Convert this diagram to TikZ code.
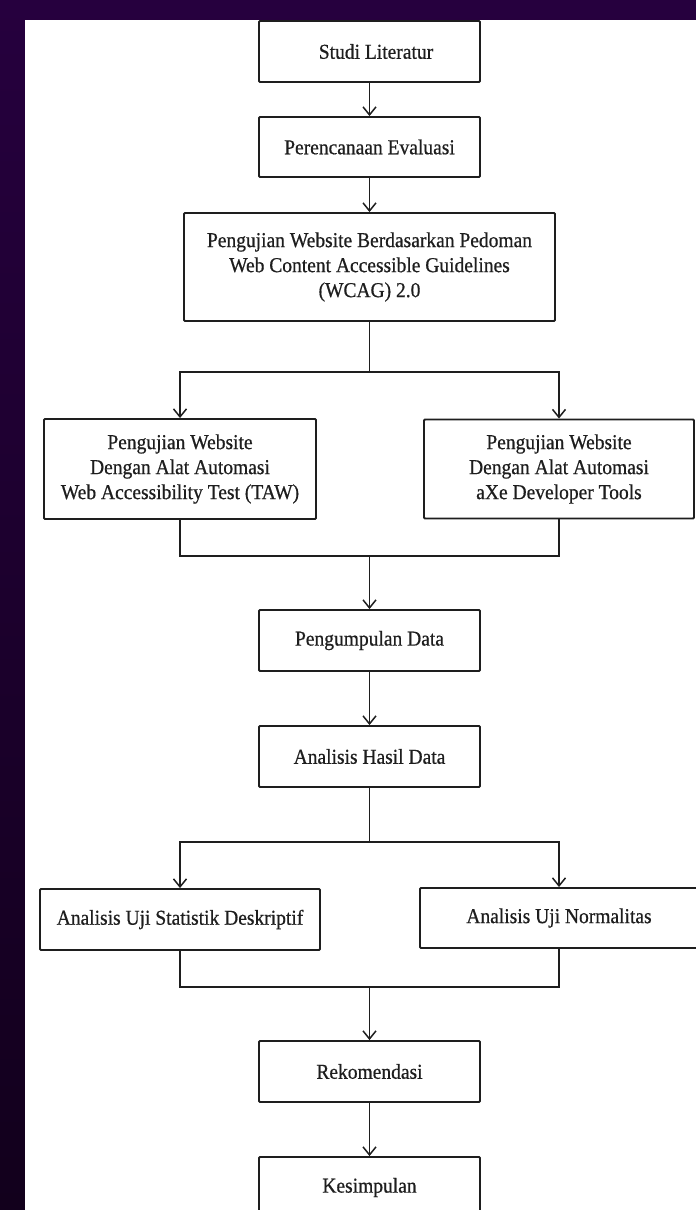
\documentclass[tikz,border=0pt]{standalone}
\usepackage{fontspec}
\setmainfont{Liberation Serif}[FakeStretch=0.92,FakeBold=0.6]
\usetikzlibrary{arrows.meta}
\definecolor{bgpurple}{RGB}{38,0,62}
\definecolor{bgdark}{RGB}{18,0,28}
\definecolor{inkgray}{RGB}{30,30,30}

\begin{document}
\begin{tikzpicture}[x=1pt,y=-1pt,
    box/.style={draw=inkgray,line width=1.9pt,rounded corners=1pt,fill=white,align=center,inner sep=0pt,
        text=inkgray,font=\fontsize{21.2}{25}\selectfont,minimum width=221pt,minimum height=61pt},
    line/.style={draw=inkgray,line width=1.5pt},
    arrow/.style={line,-{Straight Barb[length=8pt,width=13pt]}}]
    \useasboundingbox (0,0) rectangle (696,1210);
    \shade[top color=bgpurple,bottom color=bgdark] (0,0) rectangle (696,1210);
    \fill[white] (25,20) rectangle (696,1210);

    \node[box] (studi) at (369.5,51.5) {\hspace*{13pt}Studi Literatur};
    \node[box,minimum height=60pt] (rencana) at (369.5,147) {Perencanaan Evaluasi};
    \node[box,minimum width=371pt,minimum height=108pt] (uji) at (369.5,267) {
        Pengujian Website Berdasarkan Pedoman\\
        Web Content Accessible Guidelines\\
        (WCAG) 2.0};

    \node[box,minimum width=272pt,minimum height=100pt] (taw) at (180,469) {
        Pengujian Website\\
        Dengan Alat Automasi\\
        Web Accessibility Test (TAW)};
    \node[box,minimum width=270pt,minimum height=99pt] (axe) at (559,469) {
        Pengujian Website\\
        Dengan Alat Automasi\\
        aXe Developer Tools};

    \node[box] (kumpul) at (369.5,640.5) {Pengumpulan Data};
    \node[box] (hasil) at (369.5,756.5) {Analisis Hasil Data};

    \node[box,minimum width=280pt] (deskriptif) at (180,919.5) {Analisis Uji Statistik Deskriptif};
    \node[box,minimum width=278pt,minimum height=60pt] (normal) at (559,918) {Analisis Uji Normalitas};

    \node[box] (rekom) at (369.5,1071.5) {Rekomendasi};
    \node[box] (simpul) at (369.5,1187.5) {Kesimpulan};

    \coordinate (split1) at (369.5,372);
    \coordinate (merge1) at (369.5,556);
    \coordinate (split2) at (369.5,842);
    \coordinate (merge2) at (369.5,987);

\draw [arrow] (studi.south) to (rencana.north);
\draw [arrow] (rencana.south) to (uji.north);
\draw [line] (uji.south) to (split1);
\draw [arrow] (split1) -| (taw.north);
\draw [arrow] (split1) -| (axe.north);
\draw [line] (taw.south) |- (merge1) -| (axe.south);
\draw [arrow] (merge1) to (kumpul.north);
\draw [arrow] (kumpul.south) to (hasil.north);
\draw [line] (hasil.south) to (split2);
\draw [arrow] (split2) -| (deskriptif.north);
\draw [arrow] (split2) -| (normal.north);
\draw [line] (deskriptif.south) |- (merge2) -| (normal.south);
\draw [arrow] (merge2) to (rekom.north);
\draw [arrow] (rekom.south) to (simpul.north);
\end{tikzpicture}
\end{document}
